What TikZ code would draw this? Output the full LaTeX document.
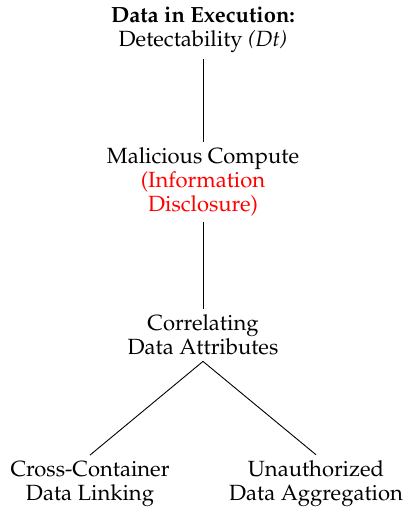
\documentclass[tikz,border=0pt]{standalone}
\usepackage[T1]{fontenc}
\usepackage{mathpazo}
\usepackage{xcolor}
\begin{document}
\begin{tikzpicture}[x=1pt,y=1pt,
  treenode/.style={align=center,inner sep=6pt,font=\fontsize{22}{24}\selectfont},
  edge/.style={draw=black,line width=0.9pt}]
\useasboundingbox (0,0) rectangle (403,-512);
\node[treenode] (root) at (203,-30) {\textbf{Data in Execution:}\\Detectability \textit{(Dt)}};
\node[treenode] (mal) at (203,-182) {Malicious Compute\\\textcolor{red}{(Information}\\\textcolor{red}{Disclosure)}};
\node[treenode] (corr) at (203,-335) {Correlating\\Data Attributes};
\node[treenode] (cross) at (90,-484) {Cross-Container\\Data Linking};
\node[treenode] (unauth) at (316,-484) {Unauthorized\\Data Aggregation};
\draw[edge] (root.south) -- (mal.north);
\draw[edge] (mal.south) -- (corr.north);
\draw[edge] (corr.south) -- (cross.north);
\draw[edge] (corr.south) -- (unauth.north);
\end{tikzpicture}
\end{document}
